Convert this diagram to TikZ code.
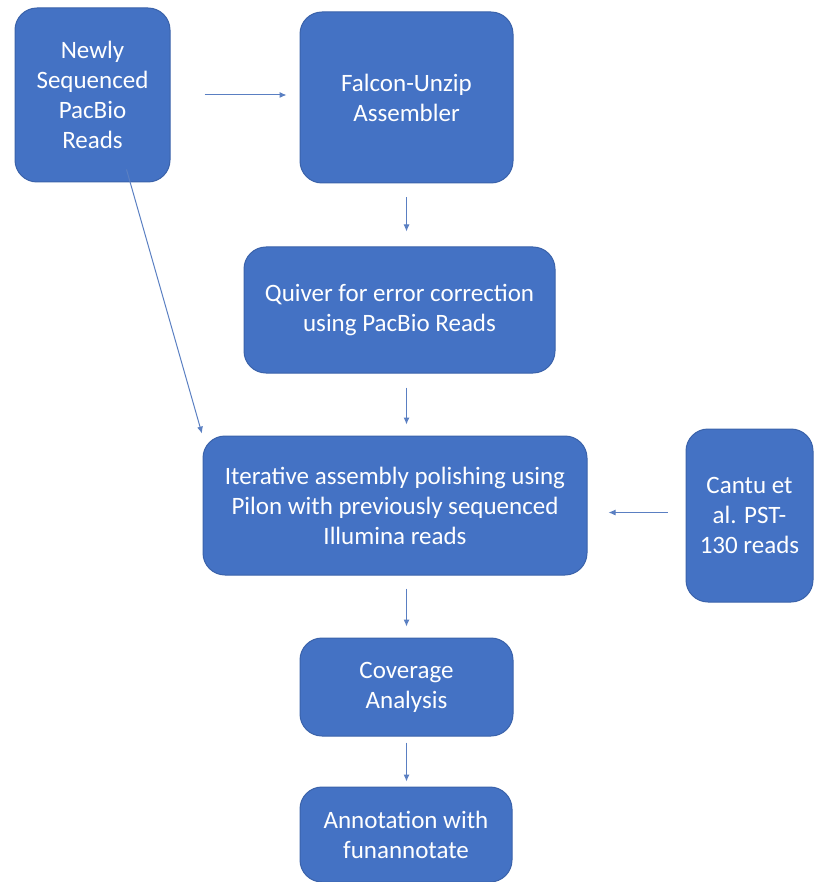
\documentclass[tikz,border=0pt]{standalone}
\usepackage{fontspec}
\setmainfont{Carlito}
\usetikzlibrary{arrows.meta}
\definecolor{boxfill}{HTML}{4472C4}
\definecolor{boxedge}{HTML}{3A62AA}
\definecolor{arrowcol}{HTML}{5A7FC2}
\tikzset{
  stepbox/.style={draw=boxedge, line width=1pt, fill=boxfill, text=white,
    rounded corners=22pt, align=center, inner sep=0pt,
    font=\fontsize{25}{30}\selectfont},
  flow/.style={draw=arrowcol, line width=1pt, -{Latex[length=7pt,width=6pt]}}
}
\begin{document}
\begin{tikzpicture}[x=1pt, y=-1pt]
                \useasboundingbox (0,0) rectangle (814,882);
                \node[stepbox, minimum width=155pt, minimum height=174pt] (reads) at (92.5,95) {Newly\\Sequenced\\PacBio\\Reads};
                \node[stepbox, minimum width=213pt, minimum height=171pt] (falcon) at (406.5,97.5) {Falcon-Unzip\\Assembler};
                \node[stepbox, minimum width=311pt, minimum height=126pt] (quiver) at (399.5,310) {Quiver for error correction\\using PacBio Reads};
                \node[stepbox, minimum width=384pt, minimum height=139pt] (polish) at (395,505.5) {Iterative assembly polishing using\\Pilon with previously sequenced\\Illumina reads};
                \node[stepbox, minimum width=127pt, minimum height=173pt] (cantu) at (749.5,515.5) {Cantu et\\al. PST-\\130 reads};
                \node[stepbox, minimum width=213pt, minimum height=98pt] (coverage) at (406.5,687) {Coverage\\Analysis};
                \node[stepbox, minimum width=212pt, minimum height=95pt] (annot) at (406,834.5) {Annotation with\\funannotate};
                \draw[flow, shorten <=34pt, shorten >=13pt] (reads.east) -- (reads.east -| falcon.west);
                \draw[flow, shorten >=2pt] ([xshift=34pt,yshift=13pt]reads.south) -- (polish.north west);
                \draw[flow, shorten <=14pt, shorten >=15pt] (falcon.south) -- (falcon.south |- quiver.north);
                \draw[flow, shorten <=14pt, shorten >=11pt] (falcon.south |- quiver.south) -- (falcon.south |- polish.north);
                \draw[flow, shorten <=18pt, shorten >=21pt] ([yshift=3pt]cantu.west) -- ([yshift=3pt]cantu.west -| polish.east);
                \draw[flow, shorten <=13pt, shorten >=11pt] (coverage.north |- polish.south) -- (coverage.north);
                \draw[flow, shorten <=6pt, shorten >=5pt] (coverage.south) -- (coverage.south |- annot.north);
\end{tikzpicture}
\end{document}
